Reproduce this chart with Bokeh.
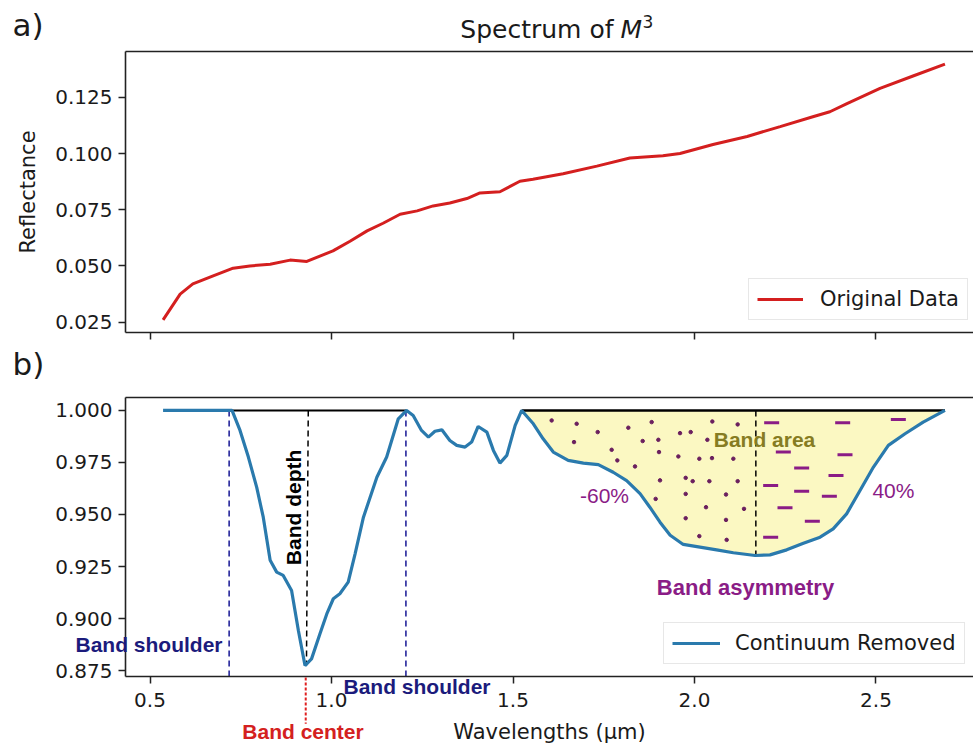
from bokeh.plotting import figure
from bokeh.models import (Label, Legend, LegendItem, Range1d, FixedTicker,
                          NumeralTickFormatter, GridBox, LinearAxis)
from bokeh.embed import file_html
from bokeh.resources import INLINE

# ---------------- data ----------------
# a) original spectrum
wl_a = [0.536, 0.583, 0.618, 0.674, 0.729, 0.775, 0.831, 0.886, 0.932, 0.968,
        1.004, 1.051, 1.098, 1.142, 1.189, 1.236, 1.280, 1.326, 1.373, 1.409,
        1.464, 1.519, 1.555, 1.638, 1.731, 1.822, 1.913, 1.960, 2.051, 2.145,
        2.236, 2.326, 2.373, 2.420, 2.511, 2.602, 2.690]
refl = [0.026, 0.0375, 0.042, 0.0456, 0.049, 0.050, 0.0508, 0.0526, 0.052, 0.0544,
        0.0567, 0.061, 0.0656, 0.069, 0.073, 0.0745, 0.0767, 0.078, 0.080, 0.0825,
        0.083, 0.0877, 0.0886, 0.091, 0.0944, 0.098, 0.099, 0.100, 0.104, 0.1076,
        0.112, 0.1164, 0.1186, 0.1222, 0.129, 0.1345, 0.1398]

# b) continuum removed spectrum
wl_b = [0.536, 0.726, 0.748, 0.771, 0.794, 0.812, 0.831, 0.849, 0.867, 0.890,
        0.909, 0.927, 0.945, 0.968, 0.987, 1.005, 1.023, 1.046, 1.065, 1.088,
        1.125, 1.152, 1.184, 1.207, 1.225, 1.248, 1.267, 1.285, 1.304, 1.326,
        1.345, 1.368, 1.386, 1.404, 1.428, 1.446, 1.464, 1.483, 1.506, 1.524,
        1.556, 1.583, 1.611, 1.652, 1.694, 1.735, 1.776, 1.813, 1.850, 1.877,
        1.905, 1.933, 1.969, 2.015, 2.061, 2.107, 2.167, 2.208, 2.254, 2.300,
        2.346, 2.382, 2.419, 2.456, 2.493, 2.534, 2.580, 2.630, 2.690]
cr = [1.0, 1.0, 0.9904, 0.9776, 0.963, 0.9487, 0.928, 0.9223, 0.9207, 0.9135,
      0.894, 0.8774, 0.8806, 0.8926, 0.9022, 0.9095, 0.9119, 0.9175, 0.9311, 0.9487,
      0.9679, 0.9776, 0.996, 1.0, 0.9976, 0.9904, 0.9872, 0.990, 0.9907, 0.9856,
      0.9832, 0.9824, 0.9848, 0.9923, 0.9896, 0.9808, 0.9747, 0.9784, 0.9928, 1.0,
      0.9936, 0.9864, 0.980, 0.976, 0.9747, 0.974, 0.9703, 0.9663, 0.960, 0.9535,
      0.9463, 0.940, 0.9356, 0.9343, 0.933, 0.9316, 0.9303, 0.9306, 0.933, 0.9362,
      0.9391, 0.9431, 0.9503, 0.9615, 0.9728, 0.9832, 0.9888, 0.9944, 1.0]

band1_shoulders = [0.718, 1.205]
band1_center = 0.929
band1_min = 0.8774
band1_continuum = [0.726, 1.207]
band2_continuum = [1.524, 2.690]
band2_center = 2.169
band2_min = 0.9303

# decorative dots (left part of band II) and dashes (right part)
dot_x = [1.6065, 1.6754, 1.7333, 1.8177, 1.8820, 1.6681, 1.8572, 1.9004, 1.9601, 1.9895,
         2.0491, 2.1189, 2.0354, 1.7718, 1.9022, 1.9555, 2.0133, 2.0482, 2.1070, 1.7874,
         1.8361, 1.9050, 1.9757, 1.9950, 2.0409, 2.1189, 1.8930, 1.9757, 2.0868, 2.0317,
         2.1364, 1.9757, 2.0868, 2.0133, 2.0886]
dot_y = [0.9952, 0.9936, 0.9896, 0.9917, 0.9944, 0.9848, 0.9853, 0.9859, 0.9891, 0.9896,
         0.9947, 0.9933, 0.9859, 0.9811, 0.9800, 0.9779, 0.9768, 0.9771, 0.9768, 0.9760,
         0.9731, 0.9664, 0.9676, 0.9660, 0.9660, 0.9660, 0.9575, 0.9599, 0.9596, 0.9535,
         0.9527, 0.9482, 0.9474, 0.9396, 0.9378]
dash_x = [2.2126, 2.4082, 2.5615, 2.2447, 2.4146, 2.2952, 2.3898, 2.2098, 2.2952, 2.3715,
          2.2493, 2.3246, 2.2098]
dash_y = [0.9941, 0.9941, 0.9957, 0.9800, 0.9787, 0.9724, 0.9687, 0.9639, 0.9612, 0.9588,
          0.9532, 0.9468, 0.9391]

x_ticks = [0.5, 1.0, 1.5, 2.0, 2.5]
ya_ticks = [0.025, 0.050, 0.075, 0.100, 0.125]
yb_ticks = [0.875, 0.900, 0.925, 0.950, 0.975, 1.000]

# ---------------- style ----------------
RED = "#d41f1f"
BLUE = "#2a7aad"
YELLOW = "#fbf8c2"
NAVY = "#1b1b7c"
PURPLE = "#8a1c86"
DOTC = "#6a1f5e"
OLIVE = "#867c22"
TXT = "#1a1a1a"
SPINE = "#222222"
AX_FONT = "DejaVu Sans"
AN_FONT = "Liberation Sans"

W, H = 973, 746
X0, X1 = 0.4325, 2.7686
YA0, YA1 = 0.0204, 0.1454
YB0, YB1 = 0.87213, 1.00623
FRAME_LEFT = 125
A_TOP, A_BOT = 51, 332      # frame of panel a (page px)
B_TOP, B_BOT = 397, 677     # frame of panel b (page px)
H1 = 345                    # height of panel a figure


def style(p, yticks):
    p.xgrid.visible = False
    p.ygrid.visible = False
    bx = p.below[0]
    ly = p.left[0]
    # right spine is cropped off in the original: no outline, explicit top spine instead
    p.outline_line_color = None
    for ax in (bx, ly):
        ax.axis_line_color = SPINE
        ax.axis_line_width = 1.6
        ax.major_tick_in = 0
        ax.major_tick_out = 7
        ax.major_tick_line_width = 1.5
        ax.major_tick_line_color = SPINE
        ax.minor_tick_line_color = None
        ax.major_label_text_font = AX_FONT
        ax.major_label_text_font_size = "20px"
        ax.major_label_text_color = TXT
        ax.axis_label_text_font = AX_FONT
        ax.axis_label_text_font_size = "21px"
        ax.axis_label_text_font_style = "normal"
        ax.axis_label_text_color = TXT
        ax.major_label_standoff = 6
    bx.ticker = FixedTicker(ticks=x_ticks)
    ly.ticker = FixedTicker(ticks=yticks)
    ly.formatter = NumeralTickFormatter(format="0.000")
    bx.formatter = NumeralTickFormatter(format="0.0")
    top = LinearAxis(ticker=FixedTicker(ticks=[]), axis_line_color=SPINE,
                     axis_line_width=1.6, major_tick_line_color=None,
                     minor_tick_line_color=None)
    p.add_layout(top, "above")
    return bx, ly


def legend(p, label, r, loc, gw, standoff):
    lg = Legend(items=[LegendItem(label=label, renderers=[r])], location=loc,
                label_text_font=AX_FONT, label_text_font_size="21px",
                label_text_color=TXT, glyph_width=gw, glyph_height=20,
                label_standoff=standoff, padding=8, spacing=0, margin=0,
                border_line_color="#d0d0d0", border_line_width=1.5,
                background_fill_alpha=0.85)
    p.add_layout(lg)


# ---------------- panel a ----------------
p1 = figure(width=W, height=H1, x_range=Range1d(X0, X1), y_range=Range1d(YA0, YA1),
            output_backend="svg", toolbar_location=None,
            min_border_left=FRAME_LEFT, min_border_right=0,
            min_border_top=A_TOP, min_border_bottom=H1 - A_BOT)
bx1, ly1 = style(p1, ya_ticks)
# shared x axis: tick marks only (drawn as unlabeled minor ticks)
bx1.ticker = FixedTicker(ticks=[], minor_ticks=x_ticks)
bx1.minor_tick_in = 0
bx1.minor_tick_out = 7
bx1.minor_tick_line_width = 1.5
bx1.minor_tick_line_color = SPINE
bx1.major_label_standoff = 0
ly1.axis_label = "Reflectance"
ly1.axis_label_standoff = 12

r1 = p1.line(wl_a, refl, line_color=RED, line_width=3)
legend(p1, "Original Data", r1, (623, 12), 46, 17)

# ---------------- panel b ----------------
p2 = figure(width=W, height=H - H1, x_range=Range1d(X0, X1), y_range=Range1d(YB0, YB1),
            output_backend="svg", toolbar_location=None,
            min_border_left=FRAME_LEFT, min_border_right=0,
            min_border_top=B_TOP - H1, min_border_bottom=H - B_BOT)
bx2, ly2 = style(p2, yb_ticks)
bx2.major_label_standoff = 9
bx2.axis_label = "Wavelengths (µm)"
bx2.axis_label_standoff = 10

fill_x = [x for x in wl_b if band2_continuum[0] <= x <= band2_continuum[1]]
fill_y = [y for x, y in zip(wl_b, cr) if band2_continuum[0] <= x <= band2_continuum[1]]
p2.varea(x=fill_x, y1=fill_y, y2=1.0, fill_color=YELLOW)

p2.scatter(dot_x, dot_y, marker="circle", size=3.5, fill_color=DOTC, line_color=DOTC)
p2.scatter(dash_x, dash_y, marker="dash", size=15, line_color=PURPLE, line_width=3)

p2.line(band1_continuum, [1.0, 1.0], line_color="black", line_width=2)
p2.line(band2_continuum, [1.0, 1.0], line_color="black", line_width=2.5)

p2.segment(x0=band1_shoulders, y0=[1.0, 1.0], x1=band1_shoulders, y1=[YB0, YB0],
           line_color="#24249a", line_width=1.6, line_dash="6 4")
p2.segment(x0=[0.936, band2_center], y0=[1.0, 1.0], x1=[0.931, band2_center],
           y1=[band1_min, band2_min], line_color="black", line_width=1.5, line_dash="6 4")

r2 = p2.line(wl_b, cr, line_color=BLUE, line_width=3.2)
legend(p2, "Continuum Removed", r2, (538, 12), 48, 15)


def ann(p, x, y, text, color, bold=True, align="center", angle=0.0, size="21px",
        font=AN_FONT, y_range_name="default", baseline="middle", italic=False):
    style_ = "bold" if bold else "normal"
    if italic:
        style_ = "italic"
    p.add_layout(Label(x=x, y=y, text=text, text_align=align, text_baseline=baseline,
                       text_font=font, text_font_size=size, text_font_style=style_,
                       text_color=color, angle=angle, y_range_name=y_range_name))


# labels that lie inside panel b's frame
ann(p2, 0.8953, 0.9534, "Band depth", "black", angle=1.5708)
ann(p2, 2.1928, 0.986, "Band area", OLIVE)
ann(p2, 1.752, 0.959, "-60%", PURPLE, bold=False)
ann(p2, 2.548, 0.9615, "40%", PURPLE, bold=False)
ann(p2, 2.1405, 0.915, "Band asymmetry", PURPLE, size="22px")

# ---------------- transparent overlay for texts outside the frames ----------------
kx = (X1 - X0) / (W - FRAME_LEFT)
kb = (YB1 - YB0) / (B_BOT - B_TOP)
ka = (YA1 - YA0) / (A_BOT - A_TOP)
ov = figure(width=W, height=H, output_backend="svg", toolbar_location=None,
            x_axis_type=None, y_axis_type=None,
            x_range=Range1d(X0 - FRAME_LEFT * kx, X1),
            y_range=Range1d(YB0 - (H - B_BOT) * kb, YB1 + B_TOP * kb),
            min_border=0, min_border_left=0, min_border_right=0,
            min_border_top=0, min_border_bottom=0,
            background_fill_color=None, border_fill_color=None, outline_line_color=None)
if "frame_align" in ov.properties():
    ov.frame_align = False
ov.xgrid.visible = False
ov.ygrid.visible = False
ov.extra_y_ranges = {"a": Range1d(YA0 - (H - A_BOT) * ka, YA1 + A_TOP * ka)}

# panel a texts (y in reflectance units)
ann(ov, 1.7769, 0.1552, "Spectrum of", TXT, bold=False, align="right", size="25px",
    font=AX_FONT, y_range_name="a")
ann(ov, 1.7961, 0.1552, "M", TXT, bold=False, align="left", size="25px",
    font=AX_FONT, y_range_name="a", italic=True)
ann(ov, 1.8570, 0.1588, "3", TXT, bold=False, align="left", size="17px",
    font=AX_FONT, y_range_name="a")
ann(ov, 0.1212, 0.1570, "a)", TXT, bold=False, align="left", size="31px",
    font=AX_FONT, y_range_name="a")

# panel b texts (y in continuum-removed units)
ann(ov, 0.1212, 1.0225, "b)", TXT, bold=False, align="left", size="31px", font=AX_FONT)
ann(ov, 0.2948, 0.8879, "Band shoulder", NAVY, align="left")
ann(ov, 1.033, 0.8678, "Band shoulder", NAVY, align="left")
ann(ov, 0.9215, 0.8463, "Band center", "#d42020")
ov.segment(x0=[band1_center], y0=[YB0], x1=[band1_center], y1=[0.8500],
           line_color="#e02020", line_width=2, line_dash="3 2")

layout = GridBox(children=[(p1, 0, 0), (p2, 1, 0), (ov, 0, 0, 2, 1)], spacing=0)
open("out.html", "w").write(file_html(layout, INLINE))
